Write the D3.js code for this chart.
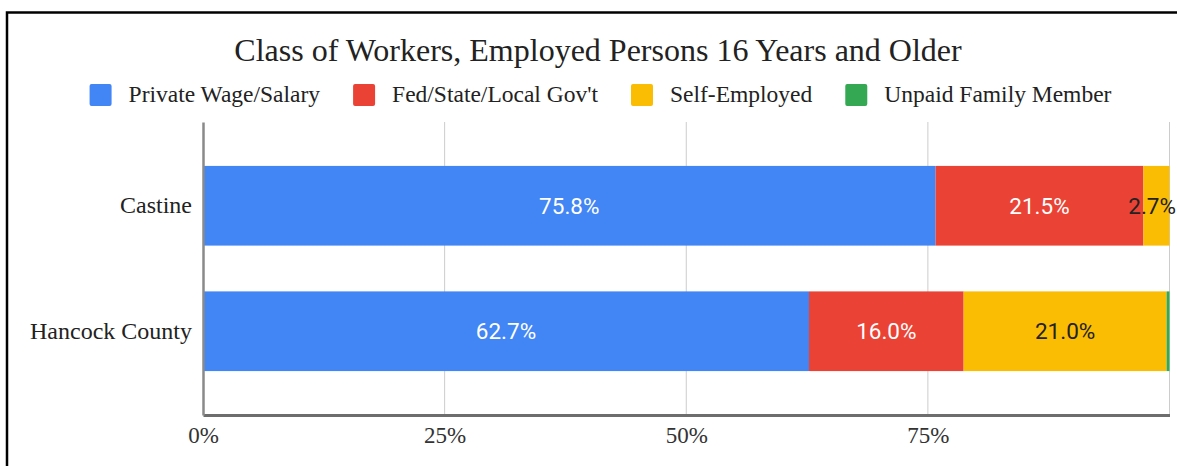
<!DOCTYPE html>
<html>
<head>
<meta charset="utf-8">
<script src="https://cdn.jsdelivr.net/npm/d3@7"></script>
<style>
  html, body { margin: 0; padding: 0; background: #fff; }
  svg { display: block; }
</style>
</head>
<body>
<svg id="chart" width="1177" height="466"></svg>
<script>
// Class of workers, employed persons 16 years and older (percent of total)
const categories = ["Castine", "Hancock County"];
const seriesNames = ["Private Wage/Salary", "Fed/State/Local Gov't", "Self-Employed", "Unpaid Family Member"];
const privateWage = [75.8, 62.7];
const govt = [21.5, 16.0];
const selfEmployed = [2.7, 21.0];
const unpaidFamily = [0.0, 0.3];
const tickValues = [0, 25, 50, 75, 100];
const tickLabels = ["0%", "25%", "50%", "75%", ""];
const colors = ["#4285F4", "#EA4335", "#FBBC04", "#34A853"];
const labelColors = ["#ffffff", "#ffffff", "#222222", "#ffffff"];

const seriesValues = [privateWage, govt, selfEmployed, unpaidFamily];
const rows = categories.map((c, i) => {
  const r = { category: c };
  seriesNames.forEach((s, k) => { r[s] = seriesValues[k][i]; });
  return r;
});

const W = 1177;
const svg = d3.select("#chart");
const serif = "'Liberation Serif', 'Times New Roman', serif";
const sans = "Roboto, Arial, sans-serif";

// outer frame
svg.append("rect")
  .attr("x", 7).attr("y", 12.5)
  .attr("width", 1200).attr("height", 500)
  .attr("fill", "none").attr("stroke", "#000").attr("stroke-width", 2.5);

const plot = { left: 203, right: 1169.5, top: 122, bottom: 415 };

const x = d3.scaleLinear().domain([0, 100]).range([plot.left, plot.right]);
const y = d3.scaleBand().domain(categories)
  .range([plot.top, plot.bottom])
  .paddingInner(0.365).paddingOuter(0.35);

// gridlines
svg.append("g").selectAll("line").data(tickValues.slice(1)).join("line")
  .attr("x1", d => x(d)).attr("x2", d => x(d))
  .attr("y1", plot.top).attr("y2", plot.bottom)
  .attr("stroke", "#cccccc").attr("stroke-width", 1);

// stacked bars
const stack = d3.stack().keys(seriesNames)(rows);
const layers = svg.append("g").selectAll("g").data(stack).join("g")
  .attr("fill", (d, i) => colors[i]);
layers.selectAll("rect").data(d => d).join("rect")
  .attr("x", d => x(d[0]))
  .attr("y", d => y(d.data.category))
  .attr("width", d => x(d[1]) - x(d[0]))
  .attr("height", y.bandwidth());

// value labels centred in each segment, kept inside the drawing
stack.forEach((layer, i) => {
  svg.append("g").selectAll("text").data(layer.filter(d => d[1] - d[0] >= 1)).join("text")
    .attr("x", d => (x(d[0]) + x(d[1])) / 2)
    .attr("y", d => y(d.data.category) + y.bandwidth() / 2)
    .attr("dy", "0.36em")
    .attr("text-anchor", "middle")
    .attr("font-family", sans)
    .attr("font-size", 22.5)
    .attr("fill", labelColors[i])
    .text(d => (d[1] - d[0]).toFixed(1) + "%")
    .each(function () {
      const t = d3.select(this);
      const w = this.getComputedTextLength();
      const cx = +t.attr("x");
      if (cx + w / 2 > W - 1) t.attr("x", W - 1 - w / 2);
    });
});

// axes
const xAxis = d3.axisBottom(x).tickValues(tickValues)
  .tickFormat((d, i) => tickLabels[i]).tickSize(0).tickPadding(12);
const gx = svg.append("g").attr("transform", `translate(0,${plot.bottom})`).call(xAxis);
gx.select(".domain").attr("stroke", "#6d6d6d").attr("stroke-width", 3);
gx.selectAll("text").attr("font-family", serif).attr("font-size", 23).attr("fill", "#333");

const yAxis = d3.axisLeft(y).tickSize(0).tickPadding(11);
const gy = svg.append("g").attr("transform", `translate(${plot.left},0)`).call(yAxis);
gy.select(".domain").attr("stroke", "#8a8a8a").attr("stroke-width", 2.5);
gy.selectAll("text").attr("font-family", serif).attr("font-size", 24).attr("fill", "#222");

// title
svg.append("text")
  .attr("x", 598).attr("y", 61)
  .attr("text-anchor", "middle")
  .attr("font-family", serif).attr("font-size", 32).attr("fill", "#222")
  .text("Class of Workers, Employed Persons 16 Years and Older");

// legend
const legend = svg.append("g");
const items = legend.selectAll("g").data(seriesNames).join("g");
items.append("rect")
  .attr("width", 22).attr("height", 22).attr("rx", 2).attr("y", -18)
  .attr("fill", (d, i) => colors[i]);
items.append("text")
  .attr("x", 39).attr("y", 0)
  .attr("font-family", serif).attr("font-size", 23.5).attr("fill", "#222")
  .text(d => d);
let cursor = 0;
const positions = [];
items.each(function () {
  positions.push(cursor);
  const w = d3.select(this).select("text").node().getComputedTextLength();
  cursor += 39 + w + 33;
});
const total = cursor - 33;
const startX = 600.5 - total / 2;
items.attr("transform", (d, i) => `translate(${startX + positions[i]},102)`);
</script>
</body>
</html>
